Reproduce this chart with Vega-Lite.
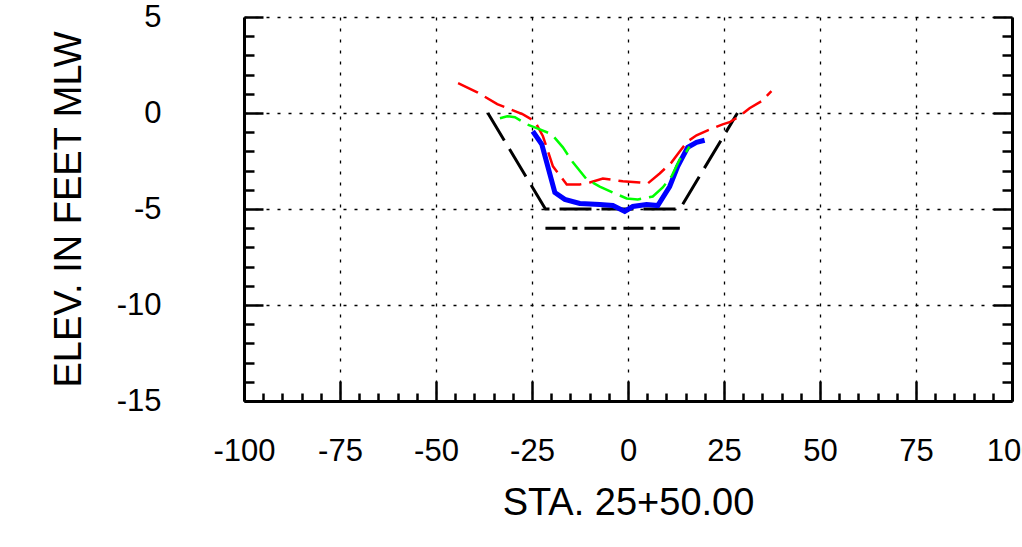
{
  "$schema": "https://vega.github.io/schema/vega-lite/v6.json",
  "width": 768,
  "height": 384,
  "autosize": {"type": "none"},
  "padding": {"left": 244, "top": 17, "right": 10, "bottom": 146},
  "background": "white",
  "config": {
    "view": {"stroke": null},
    "font": "Liberation Sans",
    "axis": {
      "labelFont": "Liberation Sans",
      "titleFont": "Liberation Sans",
      "labelColor": "black",
      "titleColor": "black",
      "labelFontSize": 31,
      "titleFontSize": 38,
      "titleFontWeight": "normal",
      "tickColor": "black",
      "domainColor": "black",
      "gridColor": "black",
      "gridDash": [3, 8],
      "gridWidth": 1.3,
      "gridOpacity": 1,
      "tickWidth": 2.5,
      "domainWidth": 3,
      "labelFlush": false,
      "labelOverlap": false
    }
  },
  "data": {
    "values": [
      {"s": "template", "x": -36.5, "y": 0},
      {"s": "template", "x": -21.5, "y": -5},
      {"s": "template", "x": 13.5, "y": -5},
      {"s": "template", "x": 28.5, "y": 0},
      {"s": "dashdot", "x": -21.5, "y": -6},
      {"s": "dashdot", "x": 13.5, "y": -6},
      {"s": "red", "x": -44.25, "y": 1.55},
      {"s": "red", "x": -39.25, "y": 1.08},
      {"s": "red", "x": -34.05, "y": 0.46},
      {"s": "red", "x": -30.75, "y": 0.2},
      {"s": "red", "x": -27.35, "y": -0.07},
      {"s": "red", "x": -24.25, "y": -0.43},
      {"s": "red", "x": -22.15, "y": -1.21},
      {"s": "red", "x": -19.55, "y": -2.78},
      {"s": "red", "x": -15.95, "y": -3.72},
      {"s": "red", "x": -12.55, "y": -3.72},
      {"s": "red", "x": -9.95, "y": -3.62},
      {"s": "red", "x": -6.55, "y": -3.41},
      {"s": "red", "x": -1.35, "y": -3.56},
      {"s": "red", "x": 3.05, "y": -3.62},
      {"s": "red", "x": 5.15, "y": -3.67},
      {"s": "red", "x": 8.25, "y": -3.15},
      {"s": "red", "x": 11.35, "y": -2.57},
      {"s": "red", "x": 13.45, "y": -2.0},
      {"s": "red", "x": 15.55, "y": -1.48},
      {"s": "red", "x": 17.85, "y": -1.16},
      {"s": "red", "x": 20.75, "y": -0.9},
      {"s": "red", "x": 24.65, "y": -0.59},
      {"s": "red", "x": 26.45, "y": -0.48},
      {"s": "red", "x": 29.05, "y": -0.17},
      {"s": "red", "x": 31.65, "y": 0.25},
      {"s": "red", "x": 34.75, "y": 0.61},
      {"s": "red", "x": 37.35, "y": 1.14},
      {"s": "blue", "x": -24.8, "y": -0.95},
      {"s": "blue", "x": -22.45, "y": -1.63},
      {"s": "blue", "x": -19.05, "y": -4.14},
      {"s": "blue", "x": -16.45, "y": -4.5},
      {"s": "blue", "x": -12.55, "y": -4.71},
      {"s": "blue", "x": -7.35, "y": -4.77},
      {"s": "blue", "x": -3.95, "y": -4.82},
      {"s": "blue", "x": -0.85, "y": -5.13},
      {"s": "blue", "x": 1.25, "y": -4.87},
      {"s": "blue", "x": 4.85, "y": -4.77},
      {"s": "blue", "x": 7.75, "y": -4.82},
      {"s": "blue", "x": 10.85, "y": -3.83},
      {"s": "blue", "x": 12.95, "y": -2.78},
      {"s": "blue", "x": 15.55, "y": -1.79},
      {"s": "blue", "x": 17.85, "y": -1.53},
      {"s": "blue", "x": 19.95, "y": -1.42},
      {"s": "green", "x": -33.35, "y": -0.27},
      {"s": "green", "x": -31.45, "y": -0.17},
      {"s": "green", "x": -29.45, "y": -0.22},
      {"s": "green", "x": -26.35, "y": -0.59},
      {"s": "green", "x": -22.95, "y": -0.85},
      {"s": "green", "x": -19.85, "y": -1.11},
      {"s": "green", "x": -16.95, "y": -1.79},
      {"s": "green", "x": -14.35, "y": -2.57},
      {"s": "green", "x": -10.75, "y": -3.46},
      {"s": "green", "x": -7.35, "y": -3.83},
      {"s": "green", "x": -3.95, "y": -4.14},
      {"s": "green", "x": -0.35, "y": -4.45},
      {"s": "green", "x": 2.55, "y": -4.5},
      {"s": "green", "x": 6.45, "y": -4.35},
      {"s": "green", "x": 9.05, "y": -3.88},
      {"s": "green", "x": 11.35, "y": -3.3},
      {"s": "green", "x": 13.45, "y": -2.42},
      {"s": "green", "x": 15.25, "y": -2.0},
      {"s": "green", "x": 16.0, "y": -1.75}
    ]
  },
  "resolve": {"axis": {"x": "independent", "y": "independent"}},
  "layer": [
    {
      "transform": [{"filter": "datum.s === 'template'"}],
      "mark": {"type": "line", "color": "black", "strokeWidth": 3, "strokeDash": [32, 10]},
      "encoding": {
        "x": {
          "field": "x", "type": "quantitative",
          "scale": {"domain": [-100, 100], "nice": false, "zero": false},
          "axis": {
            "orient": "bottom",
            "values": [-100, -75, -50, -25, 0, 25, 50, 75, 100],
            "labelExpr": "'' + datum.value",
            "tickSize": -20,
            "labelPadding": 55,
            "grid": true,
            "domain": true,
            "title": "STA. 25+50.00",
            "titlePadding": 18
          }
        },
        "y": {
          "field": "y", "type": "quantitative",
          "scale": {"domain": [-15, 5], "nice": false, "zero": false},
          "axis": {
            "orient": "left",
            "values": [-15, -10, -5, 0, 5],
            "labelExpr": "'' + datum.value",
            "tickSize": -19,
            "labelPadding": 102,
            "grid": true,
            "domain": true,
            "title": "ELEV. IN FEET MLW",
            "titlePadding": 28
          }
        }
      }
    },
    {
      "transform": [{"filter": "datum.s === 'dashdot'"}],
      "mark": {"type": "line", "color": "black", "strokeWidth": 3, "strokeDash": [20, 7, 5, 7]},
      "encoding": {
        "x": {
          "field": "x", "type": "quantitative",
          "scale": {"domain": [-100, 100], "nice": false, "zero": false},
          "axis": {
            "orient": "bottom",
            "values": [-95, -90, -85, -80, -70, -65, -60, -55, -45, -40, -35, -30, -20, -15, -10, -5, 5, 10, 15, 20, 30, 35, 40, 45, 55, 60, 65, 70, 80, 85, 90, 95],
            "tickSize": -8,
            "labels": false,
            "grid": false,
            "domain": false,
            "title": null
          }
        },
        "y": {
          "field": "y", "type": "quantitative",
          "scale": {"domain": [-15, 5], "nice": false, "zero": false},
          "axis": {
            "orient": "left",
            "values": [-14, -13, -12, -11, -9, -8, -7, -6, -4, -3, -2, -1, 1, 2, 3, 4],
            "tickSize": -10,
            "labels": false,
            "grid": false,
            "domain": false,
            "title": null
          }
        }
      }
    },
    {
      "transform": [{"filter": "datum.s === 'red'"}],
      "mark": {"type": "line", "color": "#ff0000", "strokeWidth": 2.5, "strokeDash": [22, 8]},
      "encoding": {
        "x": {"field": "x", "type": "quantitative", "scale": {"domain": [-100, 100], "nice": false, "zero": false}, "axis": null},
        "y": {
          "field": "y", "type": "quantitative",
          "scale": {"domain": [-15, 5], "nice": false, "zero": false},
          "axis": {
            "orient": "right",
            "values": [-15, -10, -5, 0, 5],
            "tickSize": -19,
            "labels": false,
            "grid": false,
            "domain": true,
            "title": null
          }
        }
      }
    },
    {
      "transform": [{"filter": "datum.s === 'blue'"}],
      "mark": {"type": "line", "color": "#0000ff", "strokeWidth": 5},
      "encoding": {
        "x": {"field": "x", "type": "quantitative", "scale": {"domain": [-100, 100], "nice": false, "zero": false}, "axis": null},
        "y": {
          "field": "y", "type": "quantitative",
          "scale": {"domain": [-15, 5], "nice": false, "zero": false},
          "axis": {
            "orient": "right",
            "values": [-14, -13, -12, -11, -9, -8, -7, -6, -4, -3, -2, -1, 1, 2, 3, 4],
            "tickSize": -10,
            "labels": false,
            "grid": false,
            "domain": false,
            "title": null
          }
        }
      }
    },
    {
      "transform": [{"filter": "datum.s === 'green'"}],
      "mark": {"type": "line", "color": "#00ff00", "strokeWidth": 2.5, "strokeDash": [22, 8]},
      "encoding": {
        "x": {"field": "x", "type": "quantitative", "scale": {"domain": [-100, 100], "nice": false, "zero": false}, "axis": null},
        "y": {"field": "y", "type": "quantitative", "scale": {"domain": [-15, 5], "nice": false, "zero": false}, "axis": null}
      }
    }
  ]
}
